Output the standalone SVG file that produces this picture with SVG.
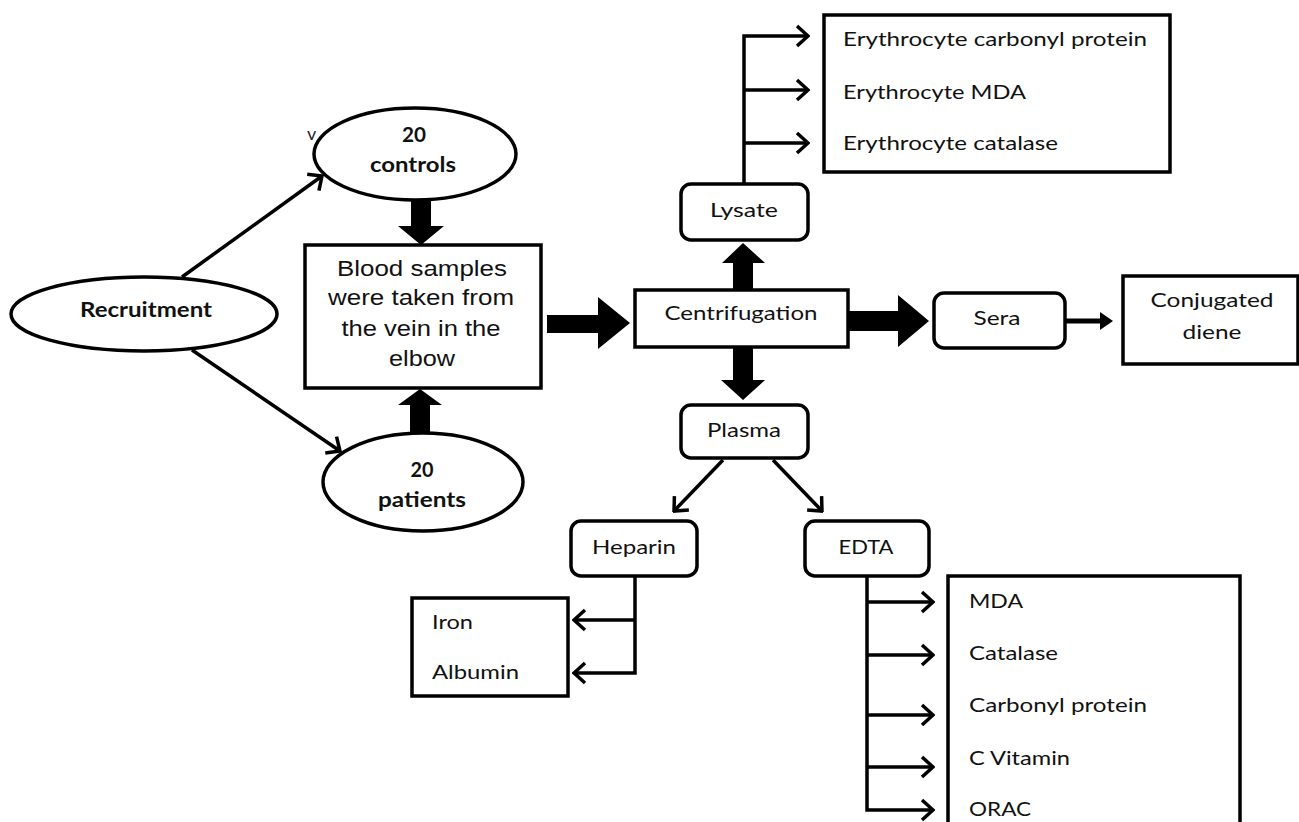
<svg xmlns="http://www.w3.org/2000/svg" width="1299" height="822" viewBox="0 0 1299 822">
<defs>
<style>
.shape{fill:#fff;stroke:#000;stroke-width:3.5}
.conn{fill:none;stroke:#000;stroke-width:3.5;marker-end:url(#open)}
.thick{fill:#000;stroke:none}
.t{font-family:Lato,"Open Sans",sans-serif;font-size:20px;fill:#111}
.tb{font-family:Lato,"Open Sans",sans-serif;font-size:20px;font-weight:bold;fill:#111}
.ta{font-family:"Liberation Sans",Arial,sans-serif;font-size:22px;fill:#111}
.m{text-anchor:middle}
</style>
<marker id="open" viewBox="-13 -12 15 24" refX="0" refY="0" markerWidth="15" markerHeight="24" markerUnits="userSpaceOnUse" orient="auto">
<path d="M-11,-10 L0,0 L-11,10" fill="none" stroke="#000" stroke-width="3.5"/>
</marker>
</defs>
<rect width="1299" height="822" fill="#fff"/>

<g id="connectors">
<line class="conn" x1="182" y1="277" x2="322" y2="176"/>
<line class="conn" x1="192" y1="350" x2="340" y2="451"/>
<polygon class="thick" points="411,200 431,200 431,226 444,226 421,245 398,226 411,226"/>
<polygon class="thick" points="410,433 430,433 430,405 442,405 420,389 398,405 410,405"/>
<polygon class="thick" points="547,315 598,315 598,297 630,323 598,349 598,333 547,333"/>
<polygon class="thick" points="849,311 898,311 898,295 929,321 898,347 898,331 849,331"/>
<polygon class="thick" points="733,290 753,290 753,263 765,263 743,243 722,263 733,263"/>
<polygon class="thick" points="733,347 753,347 753,380 765,380 743,400 721,380 733,380"/>
<line x1="1065" y1="321" x2="1102" y2="321" stroke="#000" stroke-width="5"/>
<polygon class="thick" points="1100,312 1113,321 1100,330"/>
<path class="conn" d="M744,184 V36 H808"/>
<path class="conn" d="M744,90 H808"/>
<path class="conn" d="M744,143 H808"/>
<line class="conn" x1="723" y1="460" x2="674" y2="511"/>
<line class="conn" x1="773" y1="460" x2="822" y2="511"/>
<path class="conn" d="M635,576 V673 H574"/>
<path class="conn" d="M635,620 H574"/>
<path class="conn" d="M867,576 V810 H933"/>
<path class="conn" d="M867,602 H933"/>
<path class="conn" d="M867,655 H933"/>
<path class="conn" d="M867,715 H933"/>
<path class="conn" d="M867,767 H933"/>
</g>

<g id="recruitment">
<ellipse class="shape" cx="144" cy="314" rx="133" ry="37"/>
<text class="tb m" x="146" y="317" textLength="132" lengthAdjust="spacingAndGlyphs">Recruitment</text>
</g>

<g id="controls">
<text x="307" y="140" font-family="Lato,sans-serif" font-size="18" fill="#223">v</text>
<ellipse class="shape" cx="415" cy="154" rx="101" ry="46"/>
<text class="tb m" x="414" y="142" textLength="24" lengthAdjust="spacingAndGlyphs">20</text>
<text class="tb m" x="413" y="172" textLength="86" lengthAdjust="spacingAndGlyphs">controls</text>
</g>

<g id="patients">
<ellipse class="shape" cx="423" cy="482" rx="100" ry="49"/>
<text class="tb m" x="422" y="477" textLength="23" lengthAdjust="spacingAndGlyphs">20</text>
<text class="tb m" x="422" y="507" textLength="88" lengthAdjust="spacingAndGlyphs">patients</text>
</g>

<g id="blood">
<rect class="shape" x="305" y="245" width="236" height="143"/>
<text class="ta m" x="422" y="276" textLength="170" lengthAdjust="spacingAndGlyphs">Blood samples</text>
<text class="ta m" x="421" y="305" textLength="186" lengthAdjust="spacingAndGlyphs">were taken from</text>
<text class="ta m" x="421" y="336" textLength="159" lengthAdjust="spacingAndGlyphs">the vein in the</text>
<text class="ta m" x="422" y="366" textLength="66" lengthAdjust="spacingAndGlyphs">elbow</text>
</g>

<g id="centrifugation">
<rect class="shape" x="635" y="290" width="213" height="57"/>
<text class="t m" x="741" y="320" textLength="153" lengthAdjust="spacingAndGlyphs">Centrifugation</text>
</g>

<g id="lysate">
<rect class="shape" x="681" y="184" width="127" height="56" rx="10"/>
<text class="t m" x="744" y="217" textLength="68" lengthAdjust="spacingAndGlyphs">Lysate</text>
</g>

<g id="erythrocyte">
<rect class="shape" x="824" y="15" width="346" height="157"/>
<text class="t" x="843" y="46" textLength="304" lengthAdjust="spacingAndGlyphs">Erythrocyte carbonyl protein</text>
<text class="t" x="843" y="99" textLength="183" lengthAdjust="spacingAndGlyphs">Erythrocyte MDA</text>
<text class="t" x="843" y="150" textLength="215" lengthAdjust="spacingAndGlyphs">Erythrocyte catalase</text>
</g>

<g id="sera">
<rect class="shape" x="934" y="293" width="131" height="55" rx="10"/>
<text class="t m" x="997" y="325" textLength="47" lengthAdjust="spacingAndGlyphs">Sera</text>
</g>

<g id="conjugated">
<rect class="shape" x="1123" y="276" width="175" height="88"/>
<text class="t m" x="1212" y="307" textLength="123" lengthAdjust="spacingAndGlyphs">Conjugated</text>
<text class="t m" x="1212" y="339" textLength="59" lengthAdjust="spacingAndGlyphs">diene</text>
</g>

<g id="plasma">
<rect class="shape" x="681" y="405" width="127" height="53" rx="10"/>
<text class="t m" x="744" y="437" textLength="74" lengthAdjust="spacingAndGlyphs">Plasma</text>
</g>

<g id="heparin">
<rect class="shape" x="571" y="521" width="126" height="55" rx="10"/>
<text class="t m" x="634" y="554" textLength="84" lengthAdjust="spacingAndGlyphs">Heparin</text>
</g>

<g id="edta">
<rect class="shape" x="805" y="521" width="124" height="55" rx="10"/>
<text class="t m" x="866" y="554" textLength="55" lengthAdjust="spacingAndGlyphs">EDTA</text>
</g>

<g id="iron-albumin">
<rect class="shape" x="412" y="598" width="156" height="98"/>
<text class="t" x="432" y="629" textLength="41" lengthAdjust="spacingAndGlyphs">Iron</text>
<text class="t" x="432" y="679" textLength="87" lengthAdjust="spacingAndGlyphs">Albumin</text>
</g>

<g id="edta-tests">
<rect class="shape" x="948" y="576" width="292" height="262"/>
<text class="t" x="969" y="608" textLength="54" lengthAdjust="spacingAndGlyphs">MDA</text>
<text class="t" x="969" y="660" textLength="89" lengthAdjust="spacingAndGlyphs">Catalase</text>
<text class="t" x="969" y="712" textLength="178" lengthAdjust="spacingAndGlyphs">Carbonyl protein</text>
<text class="t" x="969" y="765" textLength="101" lengthAdjust="spacingAndGlyphs">C Vitamin</text>
<text class="t" x="969" y="816" textLength="62" lengthAdjust="spacingAndGlyphs">ORAC</text>
</g>
</svg>
